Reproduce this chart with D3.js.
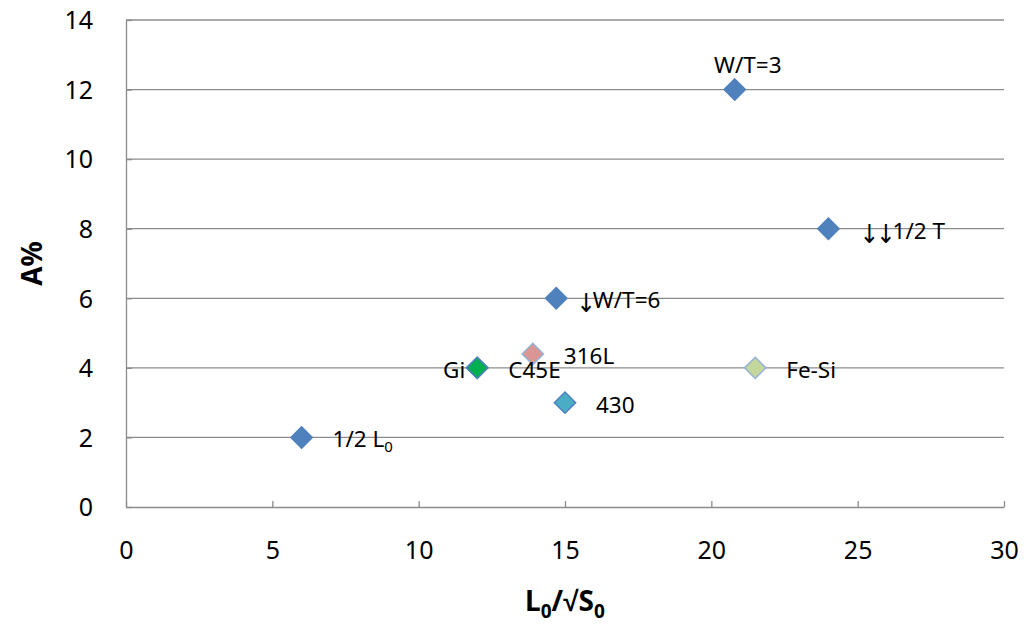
<!DOCTYPE html>
<html>
<head>
<meta charset="utf-8">
<script src="https://cdn.jsdelivr.net/npm/d3@7"></script>
<style>
  body { margin: 0; background: #fff; }
  text { font-family: "Noto Sans", sans-serif; fill: #000; }
</style>
</head>
<body>
<svg></svg>
<script>
const [w, h] = [1029, 630];

// data
const names  = ['1/2 L0', 'C45E', 'Gi', '316L', '430', 'W/T=6', 'W/T=3', '1/2 T', 'Fe-Si'];
const xVals  = [6, 12, 12, 13.9, 15, 14.7, 20.8, 24, 21.5];
const yVals  = [2, 4, 4, 4.4, 3, 6, 12, 8, 4];
const labels = ['1/2 L', 'C45E', 'Gi', '316L', '430', 'W/T=6', 'W/T=3', '1/2 T', 'Fe-Si'];
const labelArrows = [0, 0, 0, 0, 0, 1, 0, 2, 0];
const labelSub = ['0', '', '', '', '', '', '', '', ''];
const labelPos = ['right', 'right', 'left', 'right', 'right', 'right', 'above', 'right', 'right'];
const fills   = ['#4F81BD', '#4F81BD', '#00B050', '#D99694', '#4BACC6', '#4F81BD', '#4F81BD', '#4F81BD', '#C3D69B'];
const strokes = ['#4F81BD', '#4F81BD', '#4F81BD', '#95B3D7', '#4F81BD', '#4F81BD', '#4F81BD', '#4F81BD', '#95B3D7'];
const xTicks = [0, 5, 10, 15, 20, 25, 30];
const yTicks = [0, 2, 4, 6, 8, 10, 12, 14];

const points = names.map((n, i) => ({name: n, x: xVals[i], y: yVals[i], label: labels[i],
    arrows: labelArrows[i], sub: labelSub[i], pos: labelPos[i], fill: fills[i], stroke: strokes[i]}));

const xScale = d3.scaleLinear().domain([0, 30]).range([126, 1004]);
const yScale = d3.scaleLinear().domain([0, 14]).range([507, 20]);

let svg = d3.select('svg').attr('width', w).attr('height', h);

// gridlines
svg.append('g')
    .selectAll('line')
    .data(yTicks.filter(d => d > 0))
    .enter()
    .append('line')
        .attr('x1', xScale(0))
        .attr('x2', xScale(30))
        .attr('y1', d => yScale(d))
        .attr('y2', d => yScale(d))
        .attr('stroke', '#8c8c8c')
        .attr('stroke-width', 1.3);

const xAxis = d3.axisBottom(xScale).tickValues(xTicks).tickSizeInner(-6).tickSizeOuter(0).tickPadding(34);
const yAxis = d3.axisLeft(yScale).tickValues(yTicks).tickSizeInner(-6).tickSizeOuter(0).tickPadding(33);

const gx = svg.append('g')
    .attr('transform', `translate(0, ${yScale(0)})`)
    .call(xAxis);
const gy = svg.append('g')
    .attr('transform', `translate(${xScale(0)}, 0)`)
    .call(yAxis);

[gx, gy].forEach(g => {
    g.select('.domain').attr('stroke', '#8c8c8c').attr('stroke-width', 1.3);
    g.selectAll('.tick line').attr('stroke', '#8c8c8c').attr('stroke-width', 1.3);
    g.selectAll('.tick text').attr('font-size', 25).attr('font-family', '"Noto Sans", sans-serif').attr('fill', '#000');
});
gx.selectAll('.tick text').attr('dy', '0.71em');
gy.selectAll('.tick text').attr('dy', '0.35em');

// markers
const diamond = d3.symbol().type(d3.symbolDiamond2).size(290);
svg.append('g')
    .selectAll('path')
    .data(points)
    .enter()
    .append('path')
        .attr('d', diamond)
        .attr('transform', d => `translate(${xScale(d.x)}, ${yScale(d.y)})`)
        .attr('fill', d => d.fill)
        .attr('stroke', d => d.stroke)
        .attr('stroke-width', 1.5);

// data labels
const lab = svg.append('g')
    .selectAll('text')
    .data(points)
    .enter()
    .append('text')
        .attr('font-size', 22.5)
        .attr('x', d => d.pos === 'right' ? xScale(d.x) + (d.arrows === 1 ? 20 : 31) : d.pos === 'left' ? xScale(d.x) - 12 : xScale(d.x) + 13)
        .attr('y', d => d.pos === 'above' ? yScale(d.y) - 17 : yScale(d.y) + 10)
        .attr('text-anchor', d => d.pos === 'right' ? 'start' : d.pos === 'left' ? 'end' : 'middle');
// thin down-arrows in front of some labels
lab.filter(d => d.arrows > 0)
    .append('tspan')
        .attr('font-family', '"DejaVu Sans Condensed", "DejaVu Sans", sans-serif')
        .attr('font-size', 26)
        .attr('letter-spacing', -3)
        .attr('dy', 4)
        .text(d => '\u2193'.repeat(d.arrows));
lab.append('tspan')
    .attr('dy', d => d.arrows > 0 ? -4 : 0)
    .text(d => d.label);
lab.filter(d => d.sub)
    .append('tspan')
        .attr('font-size', 15)
        .attr('dy', 5)
        .text(d => d.sub);

// axis titles
svg.append('text')
    .attr('transform', `translate(42, ${yScale(7)}) rotate(-90)`)
    .attr('text-anchor', 'middle')
    .attr('font-size', 28)
    .attr('font-weight', 'bold')
    .text('A%');

const xt = svg.append('text')
    .attr('x', 565)
    .attr('y', 611)
    .attr('text-anchor', 'middle')
    .attr('font-size', 28)
    .attr('font-weight', 'bold');
xt.append('tspan').text('L');
xt.append('tspan').attr('font-size', 19).attr('dy', 7).text('0');
xt.append('tspan').attr('dy', -7).text('/\u221AS');
xt.append('tspan').attr('font-size', 19).attr('dy', 7).text('0');
</script>
</body>
</html>
